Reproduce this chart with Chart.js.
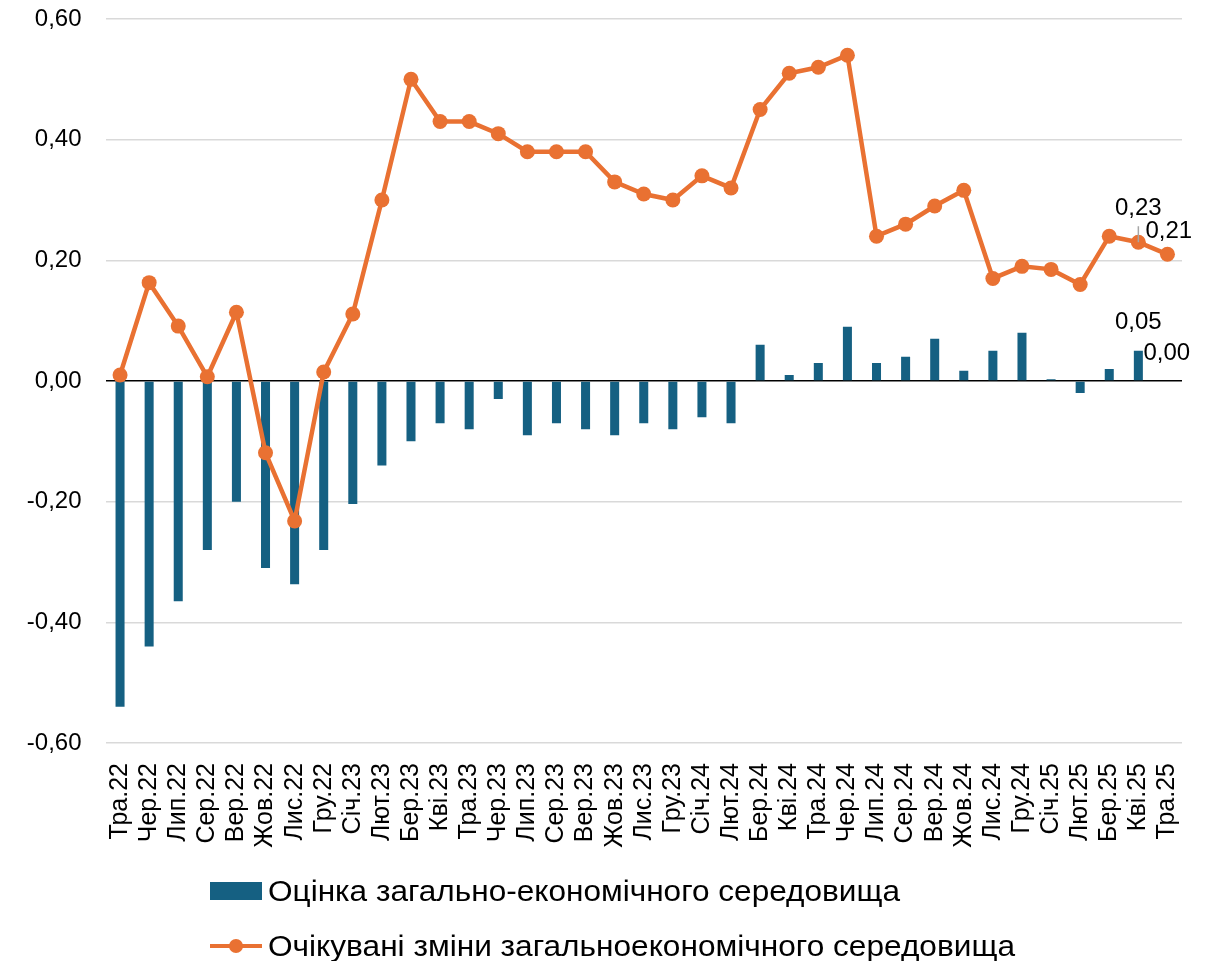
<!DOCTYPE html>
<html lang="uk">
<head>
  <meta charset="UTF-8">
  <title>Оцінка загальноекономічного середовища</title>
  <script src="https://cdn.jsdelivr.net/npm/chart.js"></script>
  <style>
    html, body {
      margin: 0;
      padding: 0;
      background: #fff;
    }
    #wrap {
      position: relative;
      width: 1217px;
      height: 961px;
    }
    #chart {
      position: absolute;
      left: 0;
      top: 0;
    }
    .leg {
      position: absolute;
      left: 210px;
      height: 40px;
      display: flex;
      align-items: center;
      font-family: 'Liberation Sans', Arial, sans-serif;
      font-size: 29px;
      color: #000;
      white-space: nowrap;
    }
    .leg .key {
      position: relative;
      width: 52px;
      height: 40px;
      margin-right: 6px;
      flex: none;
    }
    .leg .txt {
      display: inline-block;
      transform-origin: left center;
    }
    .sq {
      position: absolute;
      left: 0;
      top: 11px;
      width: 52px;
      height: 18px;
      background: #156082;
    }
    .ln {
      position: absolute;
      left: 0;
      top: 18px;
      width: 52px;
      height: 4px;
      background: #E97132;
    }
    .dot {
      position: absolute;
      left: 19px;
      top: 13px;
      width: 14px;
      height: 14px;
      border-radius: 50%;
      background: #E97132;
    }
  </style>
</head>
<body>
  <div id="wrap">
    <canvas id="chart" width="1217" height="961"></canvas>
    <div class="leg" id="leg1" style="top:871px">
      <span class="key"><span class="sq"></span></span>
      <span class="txt">Оцінка загально-економічного середовища</span>
    </div>
    <div class="leg" id="leg2" style="top:926px">
      <span class="key"><span class="ln"></span><span class="dot"></span></span>
      <span class="txt">Очікувані зміни загальноекономічного середовища</span>
    </div>
  </div>

  <script>
    const months = [
      'Тра.22', 'Чер.22', 'Лип.22', 'Сер.22', 'Вер.22', 'Жов.22', 'Лис.22', 'Гру.22',
      'Січ.23', 'Лют.23', 'Бер.23', 'Кві.23', 'Тра.23', 'Чер.23', 'Лип.23', 'Сер.23',
      'Вер.23', 'Жов.23', 'Лис.23', 'Гру.23', 'Січ.24', 'Лют.24', 'Бер.24', 'Кві.24',
      'Тра.24', 'Чер.24', 'Лип.24', 'Сер.24', 'Вер.24', 'Жов.24', 'Лис.24', 'Гру.24',
      'Січ.25', 'Лют.25', 'Бер.25', 'Кві.25', 'Тра.25'
    ];

    // оцінка (стовпці)
    const assessment = [
      -0.54, -0.44, -0.365, -0.28, -0.20, -0.31, -0.337, -0.28,
      -0.204, -0.14, -0.10, -0.07, -0.08, -0.03, -0.09, -0.07,
      -0.08, -0.09, -0.07, -0.08, -0.06, -0.07, 0.06, 0.01,
      0.03, 0.09, 0.03, 0.04, 0.07, 0.017, 0.05, 0.08,
      0.003, -0.02, 0.02, 0.05, 0.00
    ];

    // очікування (лінія)
    const expectations = [
      0.01, 0.163, 0.091, 0.007, 0.114, -0.119, -0.232, 0.015,
      0.111, 0.30, 0.50, 0.43, 0.43, 0.41, 0.38, 0.38,
      0.38, 0.33, 0.31, 0.30, 0.34, 0.32, 0.45, 0.51,
      0.52, 0.54, 0.24, 0.26, 0.29, 0.316, 0.17, 0.19,
      0.185, 0.16, 0.24, 0.23, 0.21
    ];

    const yMin = -0.6, yMax = 0.6, yStep = 0.2;

    const fmt = v => (Math.abs(v) < 1e-9 ? 0 : v).toFixed(2).replace('.', ',');

    // підписи значень біля останніх точок
    const valueLabels = [
      { ds: 1, i: 35, dx: 0, dy: -34, align: 'center', leader: true },
      { ds: 1, i: 36, dx: -22, dy: -23, align: 'left' },
      { ds: 0, i: 35, dx: 0, dy: -28, align: 'center' },
      { ds: 0, i: 36, dx: -24, dy: -28, align: 'left' }
    ];

    const labelPlugin = {
      id: 'valueLabels',
      afterDatasetsDraw(chart) {
        const c = chart.ctx;
        c.save();
        c.font = '24px "Liberation Sans", Arial, sans-serif';
        c.fillStyle = '#000';
        c.textBaseline = 'middle';
        valueLabels.forEach(l => {
          const el = chart.getDatasetMeta(l.ds).data[l.i];
          const v = chart.data.datasets[l.ds].data[l.i];
          if (l.leader) {
            c.strokeStyle = '#a6a6a6';
            c.lineWidth = 1.5;
            c.beginPath();
            c.moveTo(el.x, el.y - 16);
            c.lineTo(el.x, el.y);
            c.stroke();
          }
          c.textAlign = l.align;
          c.fillText(fmt(v), el.x + l.dx, el.y + l.dy);
        });
        c.restore();
      }
    };

    const ctx = document.getElementById('chart').getContext('2d');
    const chart = new Chart(ctx, {
      data: {
        labels: months,
        datasets: [{
          type: 'bar',
          label: 'Оцінка загально-економічного середовища',
          data: assessment,
          backgroundColor: '#156082',
          barPercentage: 0.31,
          categoryPercentage: 1.0,
          order: 2
        }, {
          type: 'line',
          label: 'Очікувані зміни загальноекономічного середовища',
          data: expectations,
          borderColor: '#E97132',
          backgroundColor: '#E97132',
          borderWidth: 4.5,
          pointRadius: 7.5,
          pointBorderWidth: 0,
          pointBackgroundColor: '#E97132',
          tension: 0,
          order: 1
        }]
      },
      options: {
        responsive: false,
        animation: false,
        layout: {
          padding: { top: 19, right: 35, bottom: 108, left: 0 }
        },
        plugins: {
          legend: { display: false },
          tooltip: { enabled: false }
        },
        scales: {
          x: {
            offset: true,
            grid: { display: false },
            border: { display: false },
            ticks: {
              autoSkip: false,
              minRotation: 90,
              maxRotation: 90,
              padding: 12,
              color: '#000',
              font: { family: '"Liberation Sans", Arial, sans-serif', size: 25 }
            },
            afterFit(s) { s.height = 110; }
          },
          y: {
            min: yMin,
            max: yMax,
            border: { display: false },
            grid: {
              drawTicks: true,
              tickLength: 24,
              tickColor: 'rgba(0,0,0,0)',
              color: c => Math.abs(c.tick.value) < 1e-9 ? '#000' : '#d9d9d9',
              lineWidth: 1.5
            },
            ticks: {
              stepSize: yStep,
              padding: 0,
              color: '#000',
              font: { family: '"Liberation Sans", Arial, sans-serif', size: 24 },
              callback: v => fmt(v)
            },
            afterFit(s) { s.width = 105.5; }
          }
        }
      },
      plugins: [labelPlugin]
    });

    // вузький шрифт легенди — підтискаємо текст до потрібної ширини
    function fitText(id, width) {
      const t = document.querySelector('#' + id + ' .txt');
      const w = t.getBoundingClientRect().width;
      t.style.transform = 'scaleX(' + (width / w) + ')';
    }
    fitText('leg1', 632);
    fitText('leg2', 747);
  </script>
</body>
</html>
